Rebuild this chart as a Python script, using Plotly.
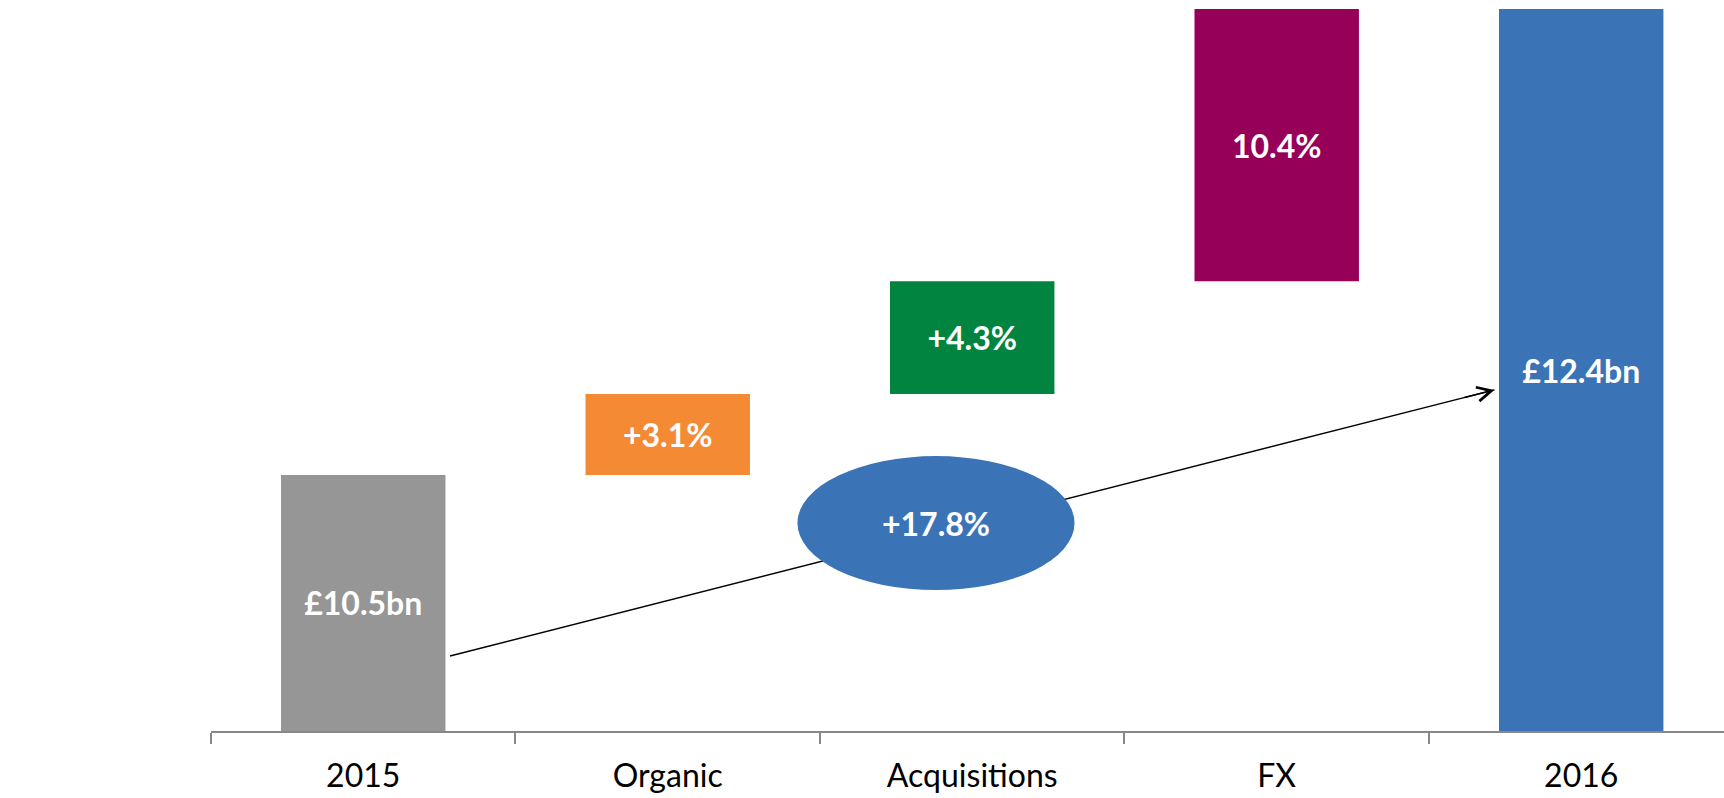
import plotly.graph_objects as go

categories = ["2015", "Organic", "Acquisitions", "FX", "2016"]
start_value = 10.5          # £bn
organic_change = 0.33       # £bn
acquisitions_change = 0.46  # £bn
fx_change = 1.11            # £bn
end_value = 12.4            # £bn
bar_labels = ["£10.5bn", "+3.1%", "+4.3%", "10.4%", "£12.4bn"]
bar_colors = ["#969696", "#F58A35", "#00843F", "#960058", "#3B73B7"]
total_growth_label = "+17.8%"

y_floor = 9.456
y_ceiling = 12.437

heights = [start_value - y_floor, organic_change, acquisitions_change, fx_change, end_value - y_floor]
bases = [y_floor,
         start_value,
         start_value + organic_change,
         start_value + organic_change + acquisitions_change,
         y_floor]

fig = go.Figure()
fig.add_trace(go.Bar(
    x=categories, y=heights, base=bases,
    marker=dict(color=bar_colors, line=dict(width=0)),
    width=0.54,
    text=bar_labels, textposition="inside", insidetextanchor="middle",
    textfont=dict(family="Lato", size=32, color="white", weight="bold"),
    textangle=0, cliponaxis=False, hoverinfo="skip", showlegend=False,
))

# growth arrow from 2015 bar to 2016 bar (line under the ellipse)
arrow_start = (0.285, 9.762)
arrow_end = (3.715, 10.847)
fig.add_shape(type="line", xref="x", yref="y",
              x0=arrow_start[0], y0=arrow_start[1], x1=arrow_end[0], y1=arrow_end[1],
              line=dict(color="black", width=1.4), layer="above")
# arrow head only (short segment along the same direction)
t = 0.97
fig.add_annotation(
    x=arrow_end[0], y=arrow_end[1],
    ax=arrow_start[0] + t * (arrow_end[0] - arrow_start[0]),
    ay=arrow_start[1] + t * (arrow_end[1] - arrow_start[1]),
    xref="x", yref="y", axref="x", ayref="y",
    showarrow=True, arrowhead=5, arrowsize=2.0, arrowwidth=1.4, arrowcolor="black",
    text="",
)

# ellipse with total growth
ell_cx, ell_cy = 1.881, 10.304
ell_rx, ell_ry = 0.455, 0.273
fig.add_shape(type="circle", xref="x", yref="y",
              x0=ell_cx - ell_rx, x1=ell_cx + ell_rx,
              y0=ell_cy - ell_ry, y1=ell_cy + ell_ry,
              fillcolor="#3B73B7", line=dict(width=0), layer="above")
fig.add_annotation(x=ell_cx, y=ell_cy, xref="x", yref="y", text=total_growth_label,
                   showarrow=False,
                   font=dict(family="Lato", size=32, color="white", weight="bold"))

fig.update_layout(
    width=1724, height=798,
    margin=dict(l=211, r=0, t=0, b=67),
    plot_bgcolor="white", paper_bgcolor="white",
    bargap=0.46,
    xaxis=dict(
        type="category", range=[-0.5, 4.469],
        showline=True, linecolor="#888888", linewidth=2,
        ticks="outside", tickson="boundaries", ticklen=11, tickwidth=1.5, tickcolor="#888888",
        tickfont=dict(family="Lato", size=32, color="black"),
        ticklabelstandoff=16,
        showgrid=False, zeroline=False, fixedrange=True,
    ),
    yaxis=dict(range=[y_floor, y_ceiling], visible=False, showgrid=False, zeroline=False),
)

fig.write_html("out.html")
